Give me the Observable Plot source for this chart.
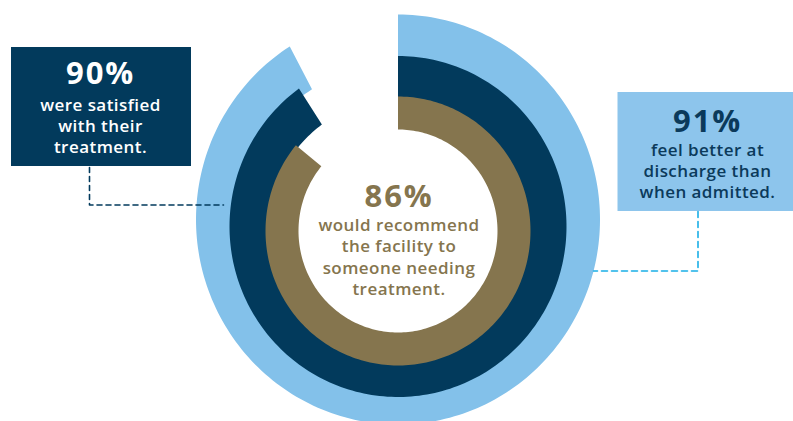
<!DOCTYPE html>
<html><head><meta charset="utf-8">
<script src="https://cdn.jsdelivr.net/npm/d3@7"></script>
<script src="https://cdn.jsdelivr.net/npm/@observablehq/plot@0.6"></script>
<style>
body{margin:0;background:#fff;overflow:hidden} svg{display:block}
g[font-size="31"] text{letter-spacing:1.8px}
g[font-size="17"] text{letter-spacing:0.45px}
</style>
</head><body><div id="chart"></div>
<script>
// ---- data ----
const metrics = ["Feel better at discharge", "Satisfied with treatment", "Would recommend facility"];
const values = [91, 90, 86];
const valueLabels = ["91%", "90%", "86%"];
const descriptions = [
  "feel better at\ndischarge than\nwhen admitted.",
  "were satisfied\nwith their\ntreatment.",
  "would recommend\nthe facility to\nsomeone needing\ntreatment."
];

// ---- styles / layout ----
const ringColors = ["#83c1ea", "#023a5c", "#85754e"];
const textColors = ["#0b3a5b", "#ffffff", "#85754e"];
const W = 793, H = 421;
// ellipse edges: outer edge of each ring, last is the inner hole
const edges = [
  {cx: 397.5, cy: 219, rx: 202, ry: 205},
  {cx: 397.5, cy: 226, rx: 168.5, ry: 170.5},
  {cx: 397.5, cy: 230.5, rx: 132.5, ry: 134.5},
  {cx: 397.5, cy: 230.5, rx: 99.5, ry: 101.5}
];
const insets = [8, 3, 0];
const boxes = [
  {x1: 617.5, x2: 795, y1: 92, y2: 211, fill: "#8dc5ec", tx: 707, py: 121.5, dy: 170, lh: 21},
  {x1: 11, x2: 191, y1: 47, y2: 166, fill: "#023a5c", tx: 100, py: 73.7, dy: 124.8, lh: 21.3},
  {x1: null, tx: 398.5, py: 197, dy: 255.7, lh: 21.1}
];
const connectors = [
  {pts: [[697.5, 211], [697.5, 270.5], [593, 270.5]], stroke: "#1aaee6", dash: "6,4"},
  {pts: [[89, 167], [89, 204.5], [223, 204.5]], stroke: "#023a5c", dash: "5,4"}
];

// ---- ring geometry from values ----
const ringPts = [];
values.forEach((v, i) => {
  const end = v / 100 * 2 * Math.PI;
  const N = 240;
  const o = edges[i], inn = edges[i + 1], ins = insets[i];
  for (let k = 0; k <= N; k++) {
    const t = end * k / N;
    ringPts.push({ring: metrics[i], x: o.cx + o.rx * Math.sin(t), y: o.cy - o.ry * Math.cos(t)});
  }
  for (let k = N; k >= 0; k--) {
    const t = end * k / N;
    ringPts.push({ring: metrics[i], x: inn.cx + (inn.rx - ins) * Math.sin(t), y: inn.cy - (inn.ry - ins) * Math.cos(t)});
  }
});

const callouts = values.map((v, i) => ({metric: metrics[i], label: valueLabels[i], desc: descriptions[i], ...boxes[i], color: textColors[i]}));
const connPts = connectors.flatMap((c, i) => c.pts.map(p => ({id: i, x: p[0], y: p[1]})));

const font = "'Open Sans', sans-serif";
const marks = [];
values.forEach((v, i) => {
  marks.push(Plot.line(ringPts.filter(d => d.ring === metrics[i]), {x: "x", y: "y", fill: ringColors[i], stroke: "none", curve: "linear"}));
});
marks.push(Plot.rect(callouts.filter(d => d.x1 != null), {x1: "x1", x2: "x2", y1: "y1", y2: "y2", fill: d => d.fill}));
connectors.forEach((c, i) => {
  marks.push(Plot.line(connPts.filter(d => d.id === i), {x: "x", y: "y", stroke: c.stroke, strokeWidth: 1.6, strokeDasharray: c.dash}));
});
marks.push(Plot.text(callouts, {x: "tx", y: "py", text: "label", fill: "color", fontSize: 31, fontWeight: 700, fontFamily: font, textAnchor: "middle"}));
callouts.forEach(d => {
  marks.push(Plot.text([d], {x: "tx", y: "dy", text: "desc", fill: "color", fontSize: 17, fontWeight: 600, fontFamily: font, textAnchor: "middle", lineHeight: d.lh / 17}));
});

const chart = Plot.plot({
  width: W, height: H, margin: 0,
  x: {domain: [0, W], range: [0, W], axis: null},
  y: {domain: [0, H], range: [0, H], axis: null},
  style: {background: "#fff"},
  marks
});
document.getElementById("chart").append(chart);
</script>
</body></html>
